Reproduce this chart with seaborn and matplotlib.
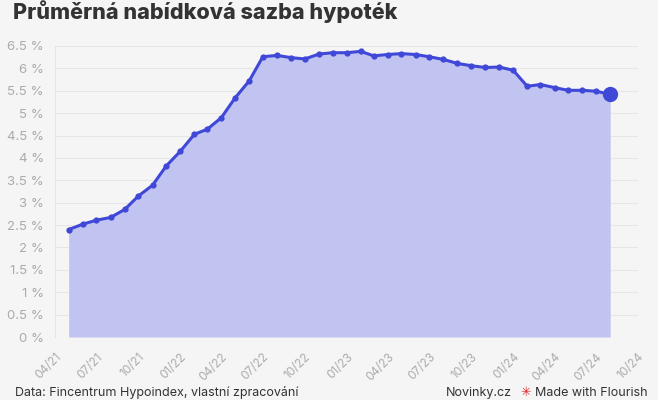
import matplotlib
matplotlib.use("Agg")
import matplotlib.pyplot as plt
import matplotlib.dates as mdates
import matplotlib.ticker as mticker
import numpy as np
import pandas as pd
import seaborn as sns

# monthly average offered mortgage rate, 05/2021 - 08/2024
months = pd.date_range("2021-05-01", "2024-08-01", freq="MS")
rates = [2.40, 2.52, 2.61, 2.67, 2.85, 3.15, 3.39, 3.82, 4.15, 4.53,
         4.64, 4.90, 5.34, 5.72, 6.26, 6.29, 6.24, 6.21, 6.32, 6.35,
         6.35, 6.38, 6.28, 6.31, 6.33, 6.31, 6.26, 6.20, 6.11, 6.06,
         6.02, 6.03, 5.96, 5.60, 5.64, 5.57, 5.51, 5.51, 5.49, 5.42]
y_ticks = np.arange(0, 7, 0.5)
x_ticks = pd.date_range("2021-04-01", "2024-10-01", freq="QS")

title = "Průměrná nabídková sazba hypoték"
source = "Data: Fincentrum Hypoindex, vlastní zpracování"

df = pd.DataFrame({"month": months, "rate": rates})

bg = "#f5f5f5"
line_c = "#4048d8"
fill_c = "#c1c3f1"
grey = "#ababab"

sns.set_style("white")
plt.rcParams["font.family"] = ["Inter", "DejaVu Sans"]

fig = plt.figure(figsize=(6.58, 4.0), dpi=100, facecolor=bg)
ax = fig.add_axes([55 / 658, 63 / 400, 583 / 658, 291 / 400], facecolor=bg)

ax.fill_between(df["month"], df["rate"], 0, color=fill_c, linewidth=0, zorder=1)
sns.lineplot(data=df, x="month", y="rate", ax=ax, color=line_c, linewidth=2.2,
             marker="o", markersize=4.5, markeredgewidth=0, zorder=3)
ax.plot(df["month"].iloc[-1], df["rate"].iloc[-1], "o", color=line_c,
        markersize=11, markeredgewidth=0, zorder=4)

ax.set_ylim(0, 6.5)
ax.set_xlim(x_ticks[0], x_ticks[-1])
ax.set_yticks(y_ticks)
ax.yaxis.set_major_formatter(mticker.FuncFormatter(lambda v, p: f"{v:g} %"))
ax.set_xticks(x_ticks)
ax.xaxis.set_major_formatter(mdates.DateFormatter("%m/%y"))
ax.grid(axis="y", color="#e6e6e6", linewidth=0.8, zorder=0)
ax.set_axisbelow(True)
for s in ["top", "right", "bottom"]:
    ax.spines[s].set_visible(False)
ax.spines["left"].set_color("#e6e6e6")
ax.tick_params(axis="y", length=0, pad=8, labelsize=9.5, labelcolor=grey)
ax.tick_params(axis="x", length=7, width=0.8, color="#e0e0e0", pad=3,
               labelsize=8.5, labelcolor=grey)
plt.setp(ax.get_xticklabels(), rotation=45, ha="right", rotation_mode="anchor")
ax.set_xlabel("")
ax.set_ylabel("")

fig.text(13 / 658, 1 - 12 / 400, title, fontsize=15.5, fontweight="heavy",
         color="#333333", va="center", ha="left")
fig.text(15 / 658, 1 / 400, source, fontsize=9, color="#333333", va="bottom")
fig.text(512 / 658, 1 / 400, "Novinky.cz", fontsize=9, color="#333333",
         va="bottom", ha="right")
fig.text(520 / 658, 1 / 400, "\u2733", fontsize=9, color="#e0262b",
         va="bottom", ha="left", family=["DejaVu Sans"])
fig.text(535 / 658, 1 / 400, "Made with Flourish", fontsize=9, color="#333333",
         va="bottom", ha="left")

fig.savefig("out.png", dpi=100, facecolor=bg)
